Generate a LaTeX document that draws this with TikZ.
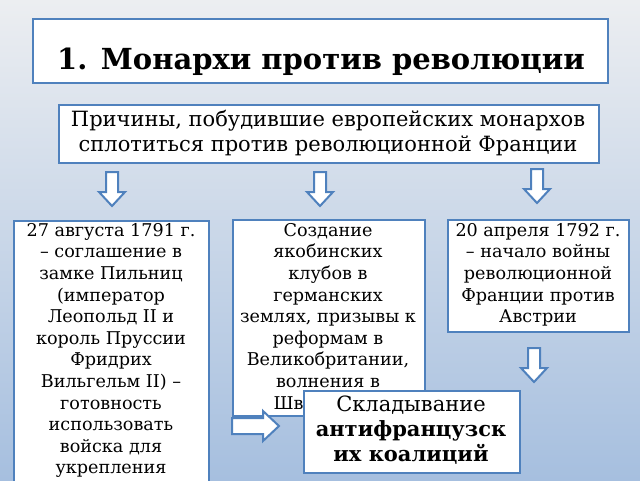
\documentclass[tikz,border=0pt]{standalone}
\usepackage{fontspec}
\setmainfont{DejaVu Serif}
\begin{document}
\begin{tikzpicture}[x=1pt,y=-1pt,
  box/.style={draw=boxblue,line width=2pt,fill=white,anchor=north west,inner sep=0pt},
  txt/.style={anchor=north,align=center,inner sep=0pt,font=\fontsize{17.6}{21.6}\selectfont},
  barrow/.style={draw=boxblue,line width=2pt,fill=white,line join=miter}]
\definecolor{boxblue}{HTML}{4F81BD}
\definecolor{bgtop}{HTML}{ECEEF1}
\definecolor{bgbot}{HTML}{A6BFDF}
\useasboundingbox (0,0) rectangle (640,480);
\shade[top color=bgtop, bottom color=bgbot] (0,0) rectangle (640,480);
% title
\node[box,minimum width=575pt,minimum height=64pt] (title) at (32,18) {};
\node[anchor=center,font=\fontsize{29}{32}\selectfont\bfseries] (tt) at (321,62) {1. Монархи против революции};
% subtitle
\node[box,minimum width=540pt,minimum height=58pt] (sub) at (58,104) {};
\node[anchor=north,align=center,inner sep=0pt,font=\fontsize{21}{25}\selectfont] (st) at (328,110) {Причины, побудившие европейских монархов\\сплотиться против революционной Франции};
% down arrows
\foreach \cx/\cy [count=\i] in {112/172,320/172,537/169,534/348}{
  \draw[barrow] (\cx-6,\cy) -- (\cx+6,\cy) -- (\cx+6,\cy+20) -- (\cx+13,\cy+20) -- (\cx,\cy+34) -- (\cx-13,\cy+20) -- (\cx-6,\cy+20) -- cycle;
}
% left box
\node[box,minimum width=195pt,minimum height=280pt] (lb) at (13,220) {};
\node[txt] (lt) at (111,223) {27 августа 1791 г.\\– соглашение в\\замке Пильниц\\(император\\Леопольд II и\\король Пруссии\\Фридрих\\Вильгельм II) –\\готовность\\использовать\\войска для\\укрепления};
% middle box
\node[box,minimum width=192pt,minimum height=196pt] (mb) at (232,219) {};
\node[txt] (mt) at (328,223) {Создание\\якобинских\\клубов в\\германских\\землях, призывы к\\реформам в\\Великобритании,\\волнения в\\Швейцарии};
% right box
\node[box,minimum width=181pt,minimum height=112pt] (rb) at (447,219) {};
\node[txt] (rt) at (538,223) {20 апреля 1792 г.\\– начало войны\\революционной\\Франции против\\Австрии};
% right arrow
\draw[barrow] (232,418) -- (263,418) -- (263,411) -- (279,426) -- (263,441) -- (263,434) -- (232,434) -- cycle;
% bottom box
\node[box,minimum width=216pt,minimum height=82pt] (bb) at (303,390) {};
\node[anchor=north,align=center,inner sep=0pt,font=\fontsize{21}{25}\selectfont] (bt) at (411,396) {Складывание\\{\bfseries\fontsize{21}{24}\selectfont антифранцузск}\\{\bfseries\fontsize{21}{24}\selectfont их коалиций}};
\end{tikzpicture}
\end{document}
